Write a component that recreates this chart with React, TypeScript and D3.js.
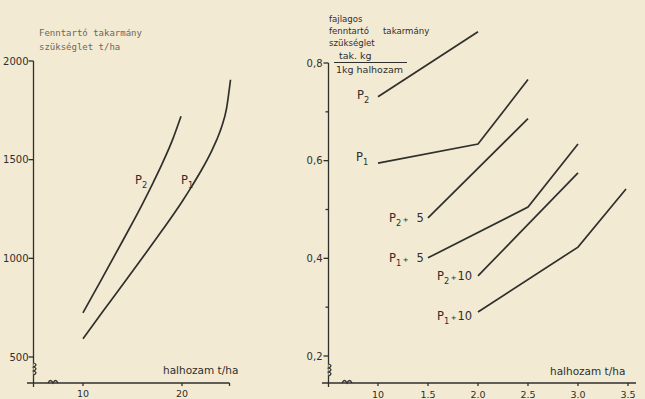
import React from "react";
import * as d3 from "d3";

// Left panel: maintenance feed requirement (t/ha) vs fish yield (t/ha)
const leftP1X = [10, 12, 14, 16, 18, 20, 21, 22, 23, 23.5, 24, 24.5, 24.9];
const leftP1Y = [593, 730, 866, 1003, 1142, 1287, 1366, 1450, 1545, 1600, 1665, 1760, 1905];
const leftP2X = [10, 12, 14, 16, 17, 18, 19, 19.9];
const leftP2Y = [724, 905, 1088, 1275, 1375, 1480, 1595, 1720];
const leftYTicks = [500, 1000, 1500, 2000];
const leftXTicks = [10, 20];

// Right panel: specific maintenance feed requirement vs fish yield
const rP2X = [10, 20];
const rP2Y = [0.731, 0.864];
const rP1X = [10, 20, 25];
const rP1Y = [0.595, 0.634, 0.766];
const rP2p5X = [15, 25];
const rP2p5Y = [0.483, 0.686];
const rP1p5X = [15, 25, 30];
const rP1p5Y = [0.401, 0.505, 0.634];
const rP2p10X = [20, 30];
const rP2p10Y = [0.364, 0.575];
const rP1p10X = [20, 30, 34.8];
const rP1p10Y = [0.29, 0.423, 0.542];
const rightYTicks = [0.2, 0.4, 0.6, 0.8];
const rightYMinor = [0.3, 0.5, 0.7];
const rightXTicks = [10, 15, 20, 25, 30, 35];
const rightXLabels = ["10", "1.5", "2.0", "2.5", "3.0", "3.5"];

const INK = "#2f2f2c";
const FONT = "'DejaVu Sans', sans-serif";
const BG = "#f3ead4";

const zip = (xs: number[], ys: number[]) => xs.map((x, i) => [x, ys[i]] as [number, number]);

export default function App() {
  const xL = d3.scaleLinear().domain([10, 20]).range([83, 182]);
  const yL = d3.scaleLinear().domain([500, 2000]).range([357, 61]);
  const xR = d3.scaleLinear().domain([10, 35]).range([378, 628]);
  const yR = d3.scaleLinear().domain([0.2, 0.8]).range([356, 63]);

  const curveL = d3
    .line<[number, number]>()
    .x((d) => xL(d[0]))
    .y((d) => yL(d[1]))
    .curve(d3.curveMonotoneX);
  const segR = d3
    .line<[number, number]>()
    .x((d) => xR(d[0]))
    .y((d) => yR(d[1]));

  const baseL = 383;
  const axL = 33.5;
  const baseR = 383;
  const axR = 328.5;

  const rightSeries = [
    zip(rP2X, rP2Y),
    zip(rP1X, rP1Y),
    zip(rP2p5X, rP2p5Y),
    zip(rP1p5X, rP1p5Y),
    zip(rP2p10X, rP2p10Y),
    zip(rP1p10X, rP1p10Y),
  ];

  const pLabel = (x: number, y: number, sub: string, extra?: string, size = 11.5) => (
    <text x={x} y={y} fontSize={size} fill={INK} fontFamily={FONT}>
      P
      <tspan fontSize={size * 0.72} dy={3.5}>{sub}</tspan>
      {extra !== undefined && (
        <>
          <tspan fontSize={size * 0.6} dy={-4} dx={1.5}>+</tspan>
          <tspan dx={extra.length > 1 ? 1 : 8} dy={0.5}>{extra}</tspan>
        </>
      )}
    </text>
  );

  return (
    <svg
      width={645}
      height={399}
      style={{ position: "absolute", left: 0, top: 0, display: "block", background: BG }}
    >
      <rect width={645} height={399} fill={BG} />

      {/* ---------- left panel ---------- */}
      <g fontFamily="'DejaVu Sans Mono', monospace" fontSize={9} fill="#6b675c">
        <text x={39} y={36}>Fenntartó takarmány</text>
        <text x={39} y={50}>szükséglet t/ha</text>
      </g>
      <g stroke={INK} strokeWidth={1.3} fill="none">
        <path d={`M${axL},${yL(2000)}V${baseL + 4}`} />
        <path d={`M27,${baseL}H${xL(24.8)}`} />
        {leftYTicks.map((t) => (
          <path key={t} d={`M${axL - 5},${yL(t)}H${axL}`} />
        ))}
        {leftXTicks.map((t) => (
          <path key={t} d={`M${xL(t)},${baseL}v3`} />
        ))}
        <path d={`M${xL(24.8)},${baseL}v3`} />
        {/* axis breaks */}
        <path d={`M${axL},363 q5,1.5 0,4 q5,1.5 0,4 q5,1.5 0,4`} fill={BG} />
        <path d={`M48,${baseL} q2.5,-5 5,0 q2.5,-5 5,0`} />
      </g>
      <g fontFamily={FONT} fontSize={10} fill={INK} textAnchor="end">
        {leftYTicks.map((t) => (
          <text key={t} x={axL - 5} y={yL(t) + 3.5}>{t}</text>
        ))}
      </g>
      <g fontFamily={FONT} fontSize={9.5} fill={INK} textAnchor="middle">
        {leftXTicks.map((t) => (
          <text key={t} x={xL(t)} y={397}>{t}</text>
        ))}
      </g>
      <text x={163} y={374} fontFamily={FONT} fontSize={10.5} fill={INK}>halhozam t/ha</text>
      <g stroke={INK} strokeWidth={1.7} fill="none">
        <path d={curveL(zip(leftP1X, leftP1Y)) || ""} />
        <path d={curveL(zip(leftP2X, leftP2Y)) || ""} />
      </g>
      {pLabel(135, 184, "2")}
      {pLabel(181, 184, "1")}

      {/* ---------- right panel ---------- */}
      <g fontFamily={FONT} fontSize={8.6} fill={INK}>
        <text x={329} y={22}>fajlagos</text>
        <text x={329} y={34}>fenntartó</text>
        <text x={383} y={34}>takarmány</text>
        <text x={329} y={46}>szükséglet</text>
        <text x={339} y={59} fontSize={9.5}>tak. kg</text>
        <text x={336} y={73} fontSize={9.5}>1kg halhozam</text>
      </g>
      <path d="M334,62.5H407" stroke={INK} strokeWidth={1} />
      <g stroke={INK} strokeWidth={1.3} fill="none">
        <path d={`M${axR},${yR(0.8)}V${baseR + 4}`} />
        <path d={`M322,${baseR}H636`} />
        {rightYTicks.map((t) => (
          <path key={t} d={`M${axR - 5},${yR(t)}H${axR}`} />
        ))}
        {rightYMinor.map((t) => (
          <path key={t} d={`M${axR - 3},${yR(t)}H${axR}`} />
        ))}
        {rightXTicks.map((t) => (
          <path key={t} d={`M${xR(t)},${baseR}v3`} />
        ))}
        <path d={`M${axR},364 q5,1.5 0,4 q5,1.5 0,4 q5,1.5 0,4`} fill={BG} />
        <path d={`M342,${baseR} q2.5,-5 5,0 q2.5,-5 5,0`} />
      </g>
      <g fontFamily={FONT} fontSize={10} fill={INK} textAnchor="end">
        {rightYTicks.map((t) => (
          <text key={t} x={axR - 6} y={yR(t) + 3.5}>{d3.format(".1f")(t).replace(".", ",")}</text>
        ))}
      </g>
      <g fontFamily={FONT} fontSize={9.5} fill={INK} textAnchor="middle">
        {rightXTicks.map((t, i) => (
          <text key={t} x={xR(t)} y={398}>{rightXLabels[i]}</text>
        ))}
      </g>
      <text x={550} y={375} fontFamily={FONT} fontSize={10.5} fill={INK}>halhozam t/ha</text>
      <g stroke={INK} strokeWidth={1.7} fill="none">
        {rightSeries.map((s, i) => (
          <path key={i} d={segR(s) || ""} />
        ))}
      </g>
      {pLabel(357, 99, "2")}
      {pLabel(356, 161, "1")}
      {pLabel(389, 222, "2", "5")}
      {pLabel(389, 262, "1", "5")}
      {pLabel(437, 280, "2", "10")}
      {pLabel(437, 320, "1", "10")}
    </svg>
  );
}
